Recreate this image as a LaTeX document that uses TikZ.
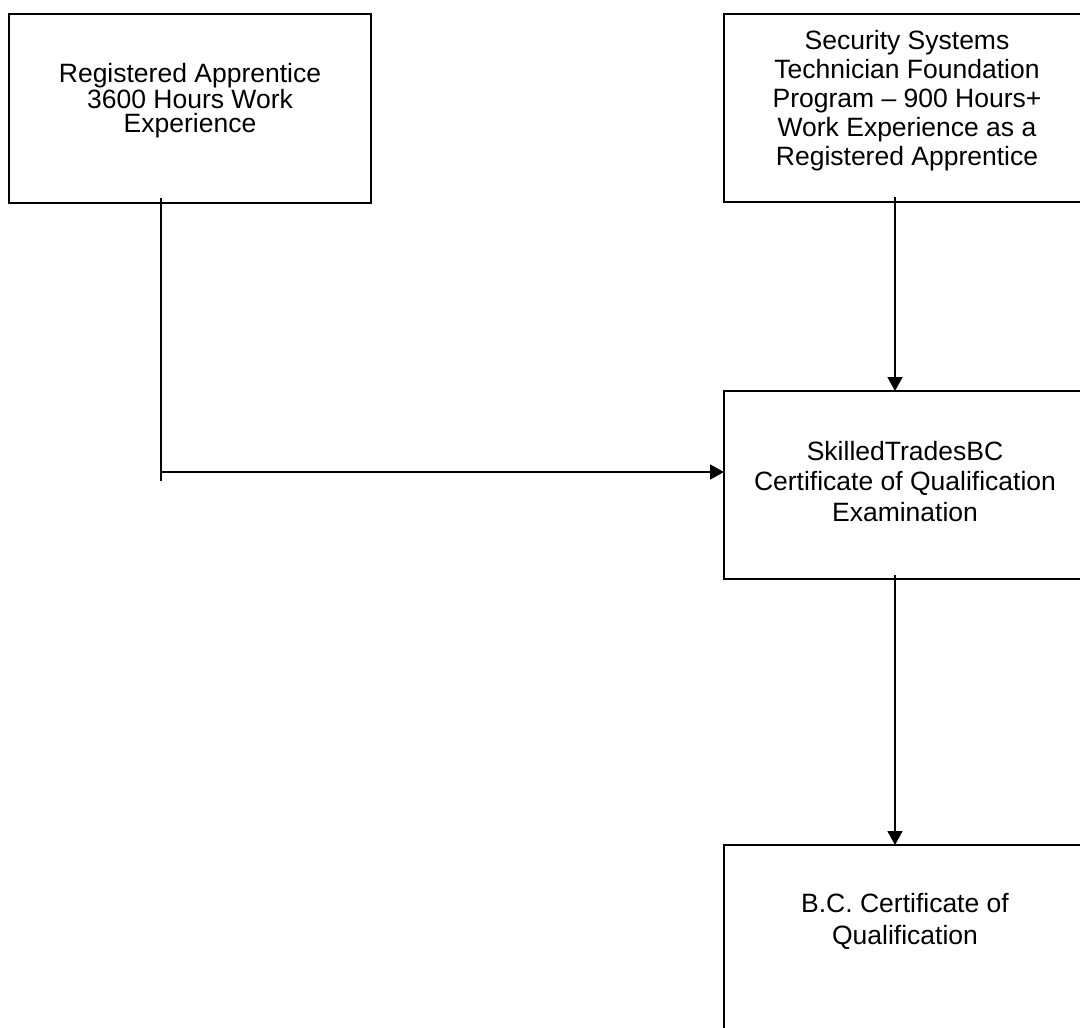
\documentclass[tikz,border=0pt]{standalone}
\usepackage{fontspec}
\setmainfont{Liberation Sans}
\usetikzlibrary{arrows.meta,calc}
\begin{document}
\begin{tikzpicture}[x=1pt,y=-1pt,
  box/.style={draw=black,line width=2pt,minimum width=362pt,inner sep=0pt,outer sep=0pt},
  lbl/.style={anchor=north,align=center,inner sep=0pt,font=\fontsize{26.5}{#1}\selectfont},
  conn/.style={line width=1.8pt},
  arr/.style={conn,-{Triangle[width=15pt,length=14pt]}}]
\useasboundingbox (0,0) rectangle (1080,1028);
\clip (0,0) rectangle (1080,1028);
\fill[white] (0,0) rectangle (1080,1028);
% boxes
\node[box,minimum height=189pt] (A) at (190,108.5) {};
\node[box,minimum height=188pt] (B) at (905,108) {};
\node[box,minimum height=188pt] (C) at (905,485) {};
\node[box,minimum height=188pt] (D) at (905,939) {};
% texts
\node[lbl=24] (tA) at (190,63) {Registered Apprentice\\3600 Hours Work\\Experience};
\node[lbl=29] (tB) at (907,30) {Security Systems\\Technician Foundation\\Program – 900 Hours+\\Work Experience as a\\Registered Apprentice};
\node[lbl=30.5] (tC) at (905,441) {SkilledTradesBC\\Certificate of Qualification\\Examination};
\node[lbl=32] (tD) at (905,893) {B.C. Certificate of\\Qualification};
% connectors
\coordinate (j) at (161,481);
\coordinate (t) at (161,472);
\coordinate (k) at (895,0);
\draw[conn] ($(A.south -| j)+(0,-5)$) -- (j);
\draw[arr] (t) -- (C.west |- t);
\draw[arr] ($(B.south -| k)+(0,-5)$) -- (C.north -| k);
\draw[arr] ($(C.south -| k)+(0,-4)$) -- (D.north -| k);
\end{tikzpicture}
\end{document}
